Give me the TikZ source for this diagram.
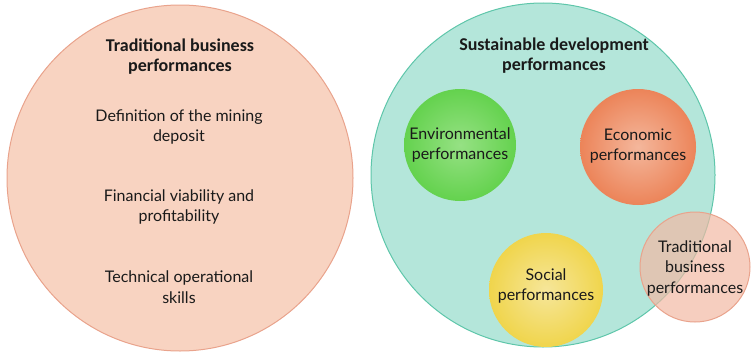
\documentclass[tikz,border=0pt]{standalone}
\usepackage{fontspec}
\setmainfont{Lato}
\newfontfamily\titlefont{Carlito}
\usetikzlibrary{shadings}
\definecolor{peachfill}{HTML}{F8D3C1}
\definecolor{peachline}{HTML}{E9A38C}
\definecolor{tealfill}{HTML}{B4E6DA}
\definecolor{tealline}{HTML}{5EC6AA}
\definecolor{greenin}{HTML}{96E184}
\definecolor{greenout}{HTML}{64D24E}
\definecolor{orangein}{HTML}{F4B79C}
\definecolor{orangeout}{HTML}{EC8459}
\definecolor{yellowin}{HTML}{F6E69A}
\definecolor{yellowout}{HTML}{F0D54C}
\definecolor{smallfill}{HTML}{F2B9A4}
\definecolor{textcol}{HTML}{1A1A1A}
\tikzset{
  x=1pt, y=-1pt,
  bigcirc/.style={circle, draw, line width=1pt, inner sep=0pt},
  innercirc/.style={circle, inner sep=0pt, minimum size=112pt},
  title/.style={font=\titlefont\bfseries\fontsize{18}{20}\selectfont, align=center, text=textcol},
  body/.style={font=\fontsize{16}{20.5}\selectfont, align=center, text=textcol},
}
\begin{document}
\begin{tikzpicture}
\useasboundingbox (0,0) rectangle (752,356);
% left circle
\node[bigcirc, fill=peachfill, draw=peachline, minimum size=346pt] (left) at (180,178) {};
\node[title] (lt) at (180,57) {Traditional business\\performances};
\node[body] (l1) at (179,127) {Definition of the mining\\deposit};
\node[body] (l2) at (179,207) {Financial viability and\\profitability};
\node[body] (l3) at (179,287) {Technical operational\\skills};
% right circle
\node[bigcirc, fill=tealfill, draw=tealline, minimum size=344pt] (right) at (543,175) {};
\node[title] (rt) at (554,56) {Sustainable development\\performances};
\node[innercirc, inner color=greenin, outer color=greenout] (env) at (460,145) {};
\node[body, align=center] (envt) at (460,145) {Environmental\\performances};
\node[innercirc, inner color=orangein, outer color=orangeout, minimum size=116pt] (eco) at (638,147) {};
\node[body] (ecot) at (638,146) {Economic\\performances};
\node[innercirc, inner color=yellowin, outer color=yellowout, minimum size=114pt] (soc) at (546,290) {};
\node[body] (soct) at (546,286) {Social\\performances};
\node[circle, inner sep=0pt, minimum size=110pt, fill=smallfill, fill opacity=0.7, draw=peachline, line width=1pt] (trad) at (695,267) {};
\node[body] (tradt) at (695,268) {Traditional\\business\\performances};
\end{tikzpicture}
\end{document}
